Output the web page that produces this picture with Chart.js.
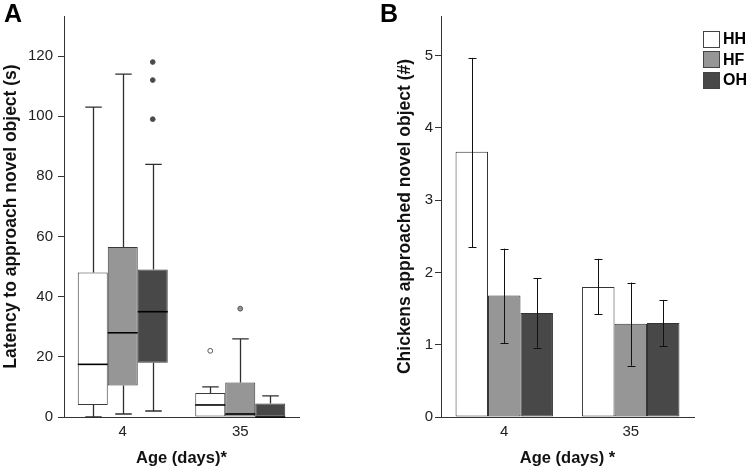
<!DOCTYPE html>
<html>
<head>
<meta charset="utf-8">
<script src="https://cdn.jsdelivr.net/npm/chart.js@4.4.1/dist/chart.umd.min.js"></script>
<style>
  body { margin: 0; background: #fff; font-family: 'Liberation Sans', Arial, sans-serif; }
  #wrap { position: relative; width: 749px; height: 471px; overflow: hidden; }
  canvas { position: absolute; top: 0; }
  #chartA { left: 0; }
  #chartB { left: 370px; }
  .panel { position: absolute; font-weight: bold; font-size: 25px; line-height: 25px; color: #000; }
  .legend { position: absolute; left: 703px; top: 29px; }
  .legend div { height: 20.5px; display: flex; align-items: center; font-weight: bold; font-size: 16px; color: #000; }
  .legend span.sw { display: inline-block; width: 15px; height: 15px; border: 1px solid #444; margin-right: 3px; box-sizing: content-box; }
</style>
</head>
<body>
<div id="wrap">
  <canvas id="chartA" width="370" height="471"></canvas>
  <canvas id="chartB" width="379" height="471"></canvas>
  <div class="panel" style="left:4px; top:1px;">A</div>
  <div class="panel" style="left:380px; top:1px;">B</div>
  <div class="legend" id="legend"></div>
</div>
<script>
const ages = ['4', '35'];
const groups = ['HH', 'HF', 'OH'];
const groupColors = ['#ffffff', '#969696', '#484848'];

// panel A: latency boxplots (per group, values for age 4 and 35)
const q1 = { HH: [4, 0], HF: [10.5, 0], OH: [18, 0] };
const q3 = { HH: [48, 8], HF: [56.5, 11.5], OH: [49, 4.5] };
const medians = { HH: [17.5, 4], HF: [28, 1], OH: [35, 0] };
const whiskerLow = { HH: [0, 0], HF: [1, 0], OH: [2, 0] };
const whiskerHigh = { HH: [103, 10], HF: [114, 26], OH: [84, 7] };
const outliers = { HH: [[], [22]], HF: [[], [36]], OH: [[99, 112, 118], []] };
const ticksA = [0, 20, 40, 60, 80, 100, 120];

// panel B: chickens approached, mean with error bars
const means = { HH: [3.67, 1.80], HF: [1.68, 1.29], OH: [1.44, 1.30] };
const errLow = { HH: [2.35, 1.42], HF: [1.02, 0.71], OH: [0.96, 0.98] };
const errHigh = { HH: [4.97, 2.19], HF: [2.33, 1.86], OH: [1.92, 1.62] };
const ticksB = [0, 1, 2, 3, 4, 5];

const FONT = "'Liberation Sans', Arial, sans-serif";
Chart.defaults.font.family = FONT;
Chart.defaults.animation = false;

function yAxis(max, tickVals, title, width, tickLen, tickPad, titlePad) {
  return {
    min: 0,
    max: max,
    afterBuildTicks: s => { s.ticks = tickVals.map(v => ({ value: v })); },
    afterFit: s => { s.width = width; s.paddingTop = 0; s.paddingBottom = 0; },
    grid: { drawOnChartArea: false, drawTicks: true, tickLength: tickLen, color: '#333', lineWidth: 1 },
    border: { color: '#333', width: 1 },
    ticks: { padding: tickPad, color: '#222', font: { size: 15 } },
    title: { display: true, text: title, color: '#111', font: { size: 17.5, weight: 'bold' }, padding: { top: titlePad, bottom: 0 } }
  };
}

function xAxis(title) {
  return {
    offset: true,
    afterFit: s => { s.height = 54; s.paddingLeft = 0; s.paddingRight = 0; },
    grid: { display: false, drawTicks: false },
    border: { display: true, color: '#333', width: 1 },
    ticks: { padding: 6, color: '#222', font: { size: 15 } },
    title: { display: true, text: title, color: '#111', font: { size: 16.5, weight: 'bold' }, padding: { top: 3, bottom: 3 } }
  };
}

const boxPlugin = {
  id: 'boxExtras',
  afterDatasetsDraw(chart) {
    const ctx = chart.ctx, y = chart.scales.y;
    ctx.save();
    chart.data.datasets.forEach((ds, i) => {
      const meta = chart.getDatasetMeta(i);
      meta.data.forEach((bar, j) => {
        const cx = Math.round(bar.x) + 0.5, w = bar.width, cap = w * 0.55;
        const yq1 = y.getPixelForValue(ds.q1[j]);
        const yq3 = y.getPixelForValue(ds.q3[j]);
        const ylo = y.getPixelForValue(ds.wLow[j]);
        const yhi = y.getPixelForValue(ds.wHigh[j]);
        ctx.strokeStyle = '#2e2e2e';
        ctx.lineWidth = 1.3;
        ctx.beginPath();
        if (ds.wHigh[j] > ds.q3[j]) {
          ctx.moveTo(cx, yq3); ctx.lineTo(cx, yhi);
          ctx.moveTo(cx - cap / 2, yhi); ctx.lineTo(cx + cap / 2, yhi);
        }
        if (ds.wLow[j] < ds.q1[j]) {
          ctx.moveTo(cx, yq1); ctx.lineTo(cx, ylo);
          ctx.moveTo(cx - cap / 2, ylo); ctx.lineTo(cx + cap / 2, ylo);
        }
        ctx.stroke();
        // median
        const ym = y.getPixelForValue(ds.med[j]);
        ctx.strokeStyle = '#000';
        ctx.lineWidth = 1.6;
        ctx.beginPath();
        ctx.moveTo(bar.x - w / 2, ym); ctx.lineTo(bar.x + w / 2, ym);
        ctx.stroke();
        // outliers
        ds.out[j].forEach(v => {
          ctx.beginPath();
          ctx.arc(bar.x, y.getPixelForValue(v), 2.4, 0, Math.PI * 2);
          ctx.fillStyle = ds.backgroundColor;
          ctx.fill();
          ctx.lineWidth = 1;
          ctx.strokeStyle = '#555';
          ctx.stroke();
        });
      });
    });
    ctx.restore();
  }
};

const errorPlugin = {
  id: 'errorBars',
  afterDatasetsDraw(chart) {
    const ctx = chart.ctx, y = chart.scales.y;
    ctx.save();
    ctx.strokeStyle = '#111';
    ctx.lineWidth = 1;
    chart.data.datasets.forEach((ds, i) => {
      const meta = chart.getDatasetMeta(i);
      meta.data.forEach((bar, j) => {
        const cx = Math.round(bar.x) + 0.5;
        const ylo = y.getPixelForValue(ds.lo[j]);
        const yhi = y.getPixelForValue(ds.hi[j]);
        ctx.beginPath();
        ctx.moveTo(cx, ylo); ctx.lineTo(cx, yhi);
        ctx.moveTo(cx - 4, Math.round(yhi) + 0.5); ctx.lineTo(cx + 4, Math.round(yhi) + 0.5);
        ctx.moveTo(cx - 4, Math.round(ylo) + 0.5); ctx.lineTo(cx + 4, Math.round(ylo) + 0.5);
        ctx.stroke();
      });
    });
    ctx.restore();
  }
};

new Chart(document.getElementById('chartA'), {
  type: 'bar',
  data: {
    labels: ages,
    datasets: groups.map((g, k) => ({
      label: g,
      data: ages.map((a, j) => [q1[g][j], q3[g][j]]),
      q1: q1[g], q3: q3[g], med: medians[g], wLow: whiskerLow[g], wHigh: whiskerHigh[g], out: outliers[g],
      backgroundColor: groupColors[k],
      borderColor: '#3a3a3a',
      borderWidth: 1,
      borderSkipped: false,
      categoryPercentage: 0.766,
      barPercentage: 1
    }))
  },
  options: {
    responsive: false,
    layout: { padding: { left: 0, top: 16, right: 71, bottom: 0 } },
    plugins: { legend: { display: false }, tooltip: { enabled: false } },
    scales: {
      x: xAxis('Age (days)*'),
      y: yAxis(133.3, ticksA, 'Latency to approach novel object (s)', 64, 6, 5, 0.5)
    }
  },
  plugins: [boxPlugin]
});

new Chart(document.getElementById('chartB'), {
  type: 'bar',
  data: {
    labels: ages,
    datasets: groups.map((g, k) => ({
      label: g,
      data: means[g],
      lo: errLow[g], hi: errHigh[g],
      backgroundColor: groupColors[k],
      borderColor: '#333',
      borderWidth: 1,
      borderSkipped: false,
      categoryPercentage: 0.77,
      barPercentage: 1
    }))
  },
  options: {
    responsive: false,
    layout: { padding: { left: 24, top: 16, right: 55, bottom: 0 } },
    plugins: { legend: { display: false }, tooltip: { enabled: false } },
    scales: {
      x: xAxis('Age (days) *'),
      y: yAxis(5.55, ticksB, 'Chickens approached novel object (#)', 47, 6, 2, 0.5)
    }
  },
  plugins: [errorPlugin]
});

const legend = document.getElementById('legend');
groups.forEach((g, k) => {
  const row = document.createElement('div');
  row.innerHTML = `<span class="sw" style="background:${groupColors[k]}"></span>${g}`;
  legend.appendChild(row);
});
</script>
</body>
</html>
